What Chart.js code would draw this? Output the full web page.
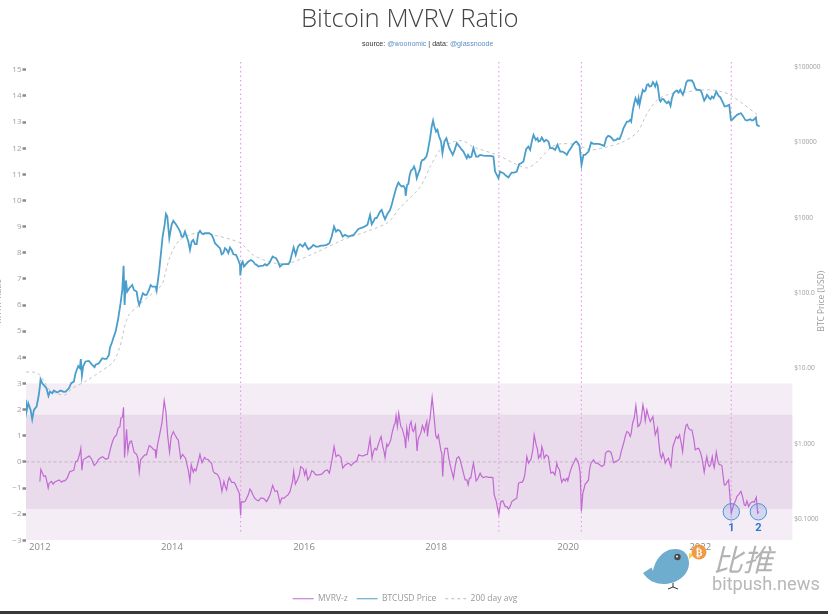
<!DOCTYPE html>
<html>
<head>
<meta charset="utf-8">
<title>Bitcoin MVRV Ratio</title>
<script src="https://cdn.jsdelivr.net/npm/chart.js@4"></script>
<style>
  html, body { margin: 0; padding: 0; background: #fff; overflow: hidden; }
  #wrap { position: relative; width: 840px; height: 614px; font-family: "Open Sans", sans-serif; }
  #wrap canvas { position: absolute; left: 0; top: 0; filter: blur(0.35px); }
  #title { position: absolute; left: 301px; top: 0px; font-size: 25.7px; font-weight: 300; color: #444; white-space: nowrap; }
  #source { position: absolute; left: 362px; top: 40px; font: 7.1px "Liberation Sans", sans-serif; color: #333; white-space: nowrap; }
  #source span { color: #5b8fc4; }
  #logo { position: absolute; left: 0; top: 0; pointer-events: none; }
  #bar { position: absolute; left: 0; top: 611px; width: 828px; height: 3px; background: #3b373d; }
</style>
</head>
<body>
<div id="wrap">
  <canvas id="mvrvChart" width="840" height="614"></canvas>
  <div id="title">Bitcoin MVRV Ratio</div>
  <div id="source">source: <span>@woonomic</span> | data: <span>@glassnoode</span></div>
  <svg id="logo" width="840" height="614">
    <path d="M689,553 L694,555 L689,559 Z" fill="#f4d23f"/>
    <path d="M643,573 L651.5,567.5 L653,571 C655,560 663,549 675,549 C684,549 689,555 689,563 C689,575 677,584 664,584 C654,584 648,580 643,573 Z" fill="#6fadcf"/>
    <circle cx="677.5" cy="557" r="3.2" fill="#4a4a4a"/>
    <circle cx="677" cy="556.5" r="1" fill="#fff"/>
    <path d="M673,583 L673,587 M668,589 L673,587 L678,589" stroke="#333" stroke-width="1" fill="none"/>
    <circle cx="699" cy="552" r="7.5" fill="#ef9a45"/>
    <text x="699" y="556" text-anchor="middle" font-family="DejaVu Sans" font-weight="bold" font-size="10" fill="#fff">₿</text>
    <text x="713" y="571" font-family="Noto Sans CJK SC" font-style="italic" font-size="30" fill="#b4b4b4">比推</text>
    <text x="712" y="590" font-family="Roboto" font-size="18.2" fill="#b8b8b8">bitpush.news</text>
  </svg>
  <div id="bar"></div>
</div>
<script>
const xTicks = [2012, 2014, 2016, 2018, 2020, 2022];
const zTicks = [-3, -2, -1, 0, 1, 2, 3, 4, 5, 6, 7, 8, 9, 10, 11, 12, 13, 14, 15];
const priceTicks = [0.1, 1, 10, 100, 1000, 10000, 100000];
const priceTickLabels = ['$0.1000', '$1.000', '$10.00', '$100.0', '$1000', '$10000', '$100000'];

const zYears = [
  2012.00, 2012.015, 2012.04, 2012.06, 2012.085, 2012.10, 2012.126, 2012.14, 2012.176, 2012.20, 2012.242, 2012.292,
  2012.328, 2012.378, 2012.414, 2012.454, 2012.494, 2012.54, 2012.57, 2012.606, 2012.62, 2012.636, 2012.656, 2012.707,
  2012.747, 2012.782, 2012.823, 2012.858, 2012.909, 2012.949, 2013.0, 2013.035, 2013.07, 2013.12, 2013.161, 2013.186,
  2013.212, 2013.227, 2013.252, 2013.267, 2013.282, 2013.303, 2013.313, 2013.333, 2013.353, 2013.388, 2013.424, 2013.464,
  2013.505, 2013.525, 2013.565, 2013.616, 2013.656, 2013.707, 2013.747, 2013.757, 2013.782, 2013.818, 2013.848, 2013.883,
  2013.909, 2013.934, 2013.964, 2013.989, 2014.02, 2014.06, 2014.096, 2014.131, 2014.161, 2014.186, 2014.222, 2014.272,
  2014.292, 2014.323, 2014.363, 2014.399, 2014.424, 2014.454, 2014.495, 2014.55, 2014.60, 2014.626, 2014.686, 2014.727,
  2014.757, 2014.787, 2014.828, 2014.868, 2014.904, 2014.939, 2014.98, 2015.02, 2015.04, 2015.05, 2015.08, 2015.131,
  2015.18, 2015.222, 2015.282, 2015.343, 2015.393, 2015.434, 2015.474,
  2015.485, 2015.525, 2015.56, 2015.596, 2015.636, 2015.662, 2015.727, 2015.788, 2015.828, 2015.843, 2015.869, 2015.9,
  2015.95, 2015.99, 2016.03, 2016.056, 2016.09, 2016.14, 2016.18, 2016.268, 2016.318, 2016.384, 2016.419, 2016.455,
  2016.485, 2016.52, 2016.56, 2016.586, 2016.626, 2016.677, 2016.747, 2016.798, 2016.828, 2016.9, 2016.96, 2017.0,
  2017.03, 2017.076, 2017.126, 2017.167, 2017.192, 2017.227, 2017.253, 2017.293, 2017.333, 2017.364, 2017.394, 2017.414,
  2017.434, 2017.465, 2017.505, 2017.54, 2017.556, 2017.581, 2017.621, 2017.657, 2017.687, 2017.712, 2017.743, 2017.793,
  2017.823, 2017.859, 2017.869, 2017.909, 2017.94, 2017.96, 2017.995, 2018.035, 2018.071, 2018.1, 2018.136, 2018.172,
  2018.212, 2018.263, 2018.313, 2018.343, 2018.39, 2018.44, 2018.485, 2018.525, 2018.566, 2018.606, 2018.667, 2018.717,
  2018.793, 2018.86, 2018.88, 2018.91, 2018.95, 2018.98, 2019.01, 2019.046, 2019.096, 2019.147, 2019.222, 2019.248,
  2019.273, 2019.3, 2019.344, 2019.374, 2019.4, 2019.435, 2019.485, 2019.515, 2019.55, 2019.576, 2019.6, 2019.637,
  2019.7, 2019.738, 2019.8, 2019.829, 2019.869, 2019.904, 2019.955, 2019.995, 2020.03, 2020.08, 2020.116, 2020.162,
  2020.182, 2020.2, 2020.222, 2020.258, 2020.308, 2020.344, 2020.384, 2020.445, 2020.51, 2020.546, 2020.586, 2020.647,
  2020.687, 2020.748, 2020.803, 2020.839, 2020.889, 2020.94, 2020.975, 2021.025, 2021.056, 2021.08, 2021.132, 2021.167,
  2021.192, 2021.243, 2021.283, 2021.318, 2021.354, 2021.394, 2021.434, 2021.47, 2021.52, 2021.556, 2021.586, 2021.637,
  2021.687, 2021.733, 2021.783, 2021.823, 2021.874, 2021.925, 2021.975, 2022.026, 2022.06, 2022.1, 2022.137, 2022.182,
  2022.212, 2022.243, 2022.288, 2022.328, 2022.364, 2022.404, 2022.43, 2022.455, 2022.47, 2022.505, 2022.556, 2022.616,
  2022.667, 2022.707, 2022.733, 2022.793, 2022.849, 2022.87, 2022.89
];
const zValues = [
  -.75, -.29, -.43, -.56, -.53, -.69, -1.0, -.82, -.75, -.85, -.75, -.69,
  -.78, -.73, -.62, -.37, -.34, .01, .04, .33, .52, -.32, .08, .17,
  .23, .11, -.14, -.05, .14, .2, .1, .14, .52, .9, 1.03, 1.29,
  1.35, 1.67, 1.73, 2.09, .17, .9, 1.25, .39, .71, .8, .39, .29,
  -.39, .08, .2, .27, .62, .52, .46, .14, .65, 1.1, 1.48, 2.34,
  1.92, 1.03, .37, .97, 1.16, .97, .84, .14, .29, .2, -.05, -.73,
  -.11, -.39, -.34, .01, .29, -.03, .17, .08, -.05, -.37, -.47, -.69,
  -1.13, -.75, -1.07, -.6, -.78, -.78, -.98, -1.2, -2.05, -1.52, -1.54, -1.39,
  -1.04, -1.24, -1.46, -1.39, -1.41, -1.52, -1.32,
  -1.26, -.9, -1.13, -1.11, -1.58, -1.39, -1.32, -1.13, -.73, -.37, -.85, -.69,
  -.18, -.27, -.31, -.69, -.56, -.37, -.5, -.47, -.34, -.43, .01, .59,
  .2, .27, .17, -.24, -.11, -.05, -.05, .04, .27, .23, .29, .9,
  .14, .52, .68, .97, .59, .17, .68, .71, 1.1, 1.41, 1.77, 1.35,
  1.86, 1.35, 1.1, .52, 1.29, .9, 1.54, 1.16, 1.41, .42, .97, 1.39,
  1.16, 1.54, .97, 1.67, 2.46, 1.99, 1.01, 1.03, .46, -.56, .52, .52,
  -.11, -.62, .14, .2, -.18, -.69, -.88, -.62, -.05, -.73, -.43, -.6,
  -.59, -.6, -1.26, -1.49, -2.0, -1.52, -1.49, -1.71, -1.8, -1.52, -1.39, -.82,
  -.78, -.78, -.5, .2, -.05, .08, 1.03, .65, .14, .27, .59, .14,
  .2, -.43, -.5, -.05, -.31, -.78, -.73, -.73, -.37, -.05, .14, -.11,
  -.43, -1.9, -1.2, -.85, -.69, -.05, .08, -.05, -.18, -.11, .39, .37,
  -.03, .04, .39, .71, 1.16, .97, 1.48, 2.15, 1.35, 1.41, 2.18, 1.57,
  1.99, 1.54, 1.73, 1.03, 1.29, .27, .33, -.05, .14, -.18, .59, .97,
  1.03, .39, 1.39, 1.29, 1.22, .46, .52, .14, -.39, .2, -.18, .2,
  -.22, .37, -.11, -.14, -.88, -.78, -.69, -1.52, -1.96, -1.64, -1.32, -1.13,
  -1.64, -1.49, -1.71, -1.52, -1.35, -1.96, -1.9
];

// second pass over the picture, more readings where the line wiggles
const zDetailYears = [
  2012.222, 2012.353, 2012.515, 2012.732, 2012.808, 2012.883, 2013.1, 2013.136, 2013.363, 2013.444, 2013.484, 2013.59,
  2013.636, 2013.68, 2013.727, 2014.04, 2014.075, 2014.116, 2014.206, 2014.247, 2014.343, 2014.515, 2014.575, 2014.65,
  2014.707, 2014.807, 2014.848, 2014.959, 2015.106, 2015.156, 2015.2, 2015.252, 2015.313, 2015.373,
  2015.697, 2015.758, 2015.929, 2015.97, 2016.01, 2016.116, 2016.217, 2016.354, 2016.712, 2016.859, 2016.929, 2017.05,
  2017.1, 2017.147, 2017.212, 2017.268, 2017.313, 2017.379, 2017.485, 2017.525, 2017.601, 2017.641, 2017.727, 2017.768,
  2017.808, 2017.838, 2017.889, 2018.015, 2018.05, 2018.086, 2018.116, 2018.192, 2018.238, 2018.288, 2018.364, 2018.414,
  2018.465, 2018.505, 2018.545, 2018.586, 2018.636, 2018.692, 2018.758, 2018.829, 2018.93, 2019.071, 2019.121, 2019.182,
  2019.323, 2019.414, 2019.465, 2019.5, 2019.536, 2019.586, 2019.616, 2019.667, 2019.717, 2019.768, 2019.839, 2019.889,
  2019.93, 2019.98, 2020.056, 2020.142, 2020.283, 2020.323, 2020.414, 2020.475, 2020.566, 2020.611, 2020.667, 2020.717,
  2020.778, 2020.864, 2020.914, 2020.955, 2021.0, 2021.041, 2021.101, 2021.152, 2021.217, 2021.258, 2021.303, 2021.374,
  2021.414, 2021.45, 2021.495, 2021.536, 2021.611, 2021.662, 2021.707, 2021.758, 2021.803, 2021.849, 2021.9, 2021.95,
  2022.0, 2022.081, 2022.116, 2022.157, 2022.197, 2022.268, 2022.308, 2022.344, 2022.384, 2022.53, 2022.58, 2022.64,
  2022.687, 2022.758, 2022.818
];
const zDetailValues = [
  -.78, -.73, -.31, .2, -.05, .08, .78, .97, .78, .33, .14, .27,
  .46, .59, .46, 1.06, .9, .46, .14, -.31, -.27, .11, .01, -.43,
  -.56, -.94, -.75, -.85, -1.52, -1.26, -1.11, -1.39, -1.49, -1.39,
  -1.39, -1.26, -.5, -.22, -.5, -.34, -.5, -.31, -.14, .24, .27, .39,
  .46, .84, .39, .59, .84, 1.48, 1.29, .9, 1.41, 1.22, .84, 1.1,
  1.29, 1.35, 1.41, .9, .78, .33, .2, .14, -.37, -.18, .08, -.43,
  -.69, -.62, -.31, -.37, -.62, -.56, -.56, -.59, -1.77, -1.71, -1.71, -1.45,
  -.69, .01, .46, .84, .46, .2, .46, .27, -.11, -.39, -.18, -.62,
  -.65, -.62, -.18, .04, -.78, -.31, -.05, -.11, .33, .42, .2, .01,
  .11, .97, 1.13, 1.1, 1.67, 1.8, 1.54, 1.92, 1.73, 1.61, 1.35, .71,
  .14, .2, .08, -.05, .78, .9, .78, 1.03, 1.44, 1.22, .9, .5,
  .39, -.05, -.05, -.11, -.09, .01, -.11, -.5, -.88, -1.52, -1.26, -1.32,
  -1.67, -1.58, -1.54
];

const priceYears = [
  2011.788, 2011.798, 2011.824, 2011.859, 2011.884, 2011.91, 2011.95, 2011.98, 2012.0, 2012.01, 2012.036, 2012.07,
  2012.1, 2012.13, 2012.152, 2012.187, 2012.212, 2012.263, 2012.313, 2012.39, 2012.44, 2012.475, 2012.515, 2012.54,
  2012.581, 2012.606, 2012.62, 2012.637, 2012.657, 2012.692, 2012.743, 2012.793, 2012.828, 2012.894, 2012.945, 2013.01,
  2013.046, 2013.096, 2013.147, 2013.187, 2013.222, 2013.248, 2013.268, 2013.283, 2013.303, 2013.323, 2013.354, 2013.399,
  2013.424, 2013.465, 2013.505, 2013.535, 2013.586, 2013.652, 2013.677, 2013.753, 2013.768,
  2013.808, 2013.859, 2013.889, 2013.909, 2013.93, 2013.96, 2013.995, 2014.02, 2014.06, 2014.111, 2014.146, 2014.197,
  2014.248, 2014.273, 2014.298, 2014.349, 2014.399, 2014.425, 2014.475, 2014.525, 2014.601, 2014.652, 2014.702, 2014.753,
  2014.803, 2014.854, 2014.879, 2014.93, 2015.005, 2015.03, 2015.035, 2015.056, 2015.091, 2015.157, 2015.197, 2015.258,
  2015.308, 2015.384, 2015.435, 2015.525, 2015.576, 2015.636, 2015.687, 2015.763, 2015.813, 2015.843, 2015.874, 2015.94,
  2016.015, 2016.066, 2016.141, 2016.217, 2016.293, 2016.384, 2016.419, 2016.455, 2016.485, 2016.545, 2016.586, 2016.672,
  2016.75, 2016.823, 2016.9, 2016.96, 2017.0, 2017.025, 2017.075, 2017.126, 2017.176, 2017.227, 2017.303, 2017.353,
  2017.394, 2017.429, 2017.479, 2017.53, 2017.54, 2017.58, 2017.621, 2017.666, 2017.707, 2017.757, 2017.792, 2017.833,
  2017.873, 2017.909, 2017.934, 2017.954, 2017.974, 2017.999, 2018.02, 2018.045, 2018.075, 2018.096, 2018.126, 2018.156,
  2018.2, 2018.252, 2018.313, 2018.353, 2018.414, 2018.464, 2018.505, 2018.565, 2018.606, 2018.666, 2018.767, 2018.868,
  2018.893, 2018.944, 2018.969, 2019.02, 2019.096, 2019.146, 2019.222, 2019.257, 2019.323, 2019.363, 2019.398,
  2019.424, 2019.475, 2019.51, 2019.55, 2019.6, 2019.636, 2019.702, 2019.727, 2019.803, 2019.838, 2019.879, 2019.954,
  2019.98, 2020.04, 2020.121, 2020.172, 2020.202, 2020.232, 2020.283, 2020.308, 2020.348, 2020.409, 2020.51, 2020.576,
  2020.636, 2020.687, 2020.778, 2020.838, 2020.889, 2020.939, 2020.98, 2021.02, 2021.05, 2021.08, 2021.131, 2021.151,
  2021.192, 2021.232, 2021.283, 2021.318, 2021.354, 2021.384, 2021.419, 2021.47, 2021.52, 2021.55, 2021.596, 2021.646,
  2021.697, 2021.737, 2021.788, 2021.838, 2021.874, 2021.924, 2021.985, 2022.025, 2022.06, 2022.101, 2022.136, 2022.177,
  2022.202, 2022.242, 2022.278, 2022.328, 2022.368, 2022.404, 2022.439, 2022.464, 2022.505, 2022.555, 2022.616, 2022.681,
  2022.732, 2022.783, 2022.843, 2022.858, 2022.899
];
const priceValues = [
  3.84, 2.68, 3.46, 2.83, 2.12, 2.83, 3.13, 4.25, 5.76, 7.2, 6.38, 5.88,
  5.47, 4.33, 4.94, 4.7, 5.1, 4.8, 5.1, 4.94, 5.47, 6.38, 6.7, 8.65,
  10.8, 10.1, 13.3, 8.06, 10.8, 12.4, 12.6, 11.2, 10.4, 11.7, 13.7, 13.4,
  15.1, 22.8, 30.9, 46.4, 73.4, 110, 230, 69.7, 147, 105, 116, 128,
  110, 105, 69.7, 85, 95, 110, 128, 122, 108,
  203, 562, 803, 1122, 1036, 534, 803, 907, 819, 689, 562, 655,
  482, 374, 482, 445, 622, 668, 604, 622, 592, 458, 414, 327,
  394, 338, 402, 327, 275, 237, 171, 249, 225, 262, 275, 242,
  225, 232, 232, 305, 290, 225, 242, 242, 321, 402, 321, 445,
  458, 382, 436, 414, 427, 458, 562, 762, 655, 668, 562, 562,
  590, 710, 748, 803, 1089, 819, 984, 1089, 1268, 955, 1268, 1811,
  2460, 2924, 2588, 2460, 1945, 2805, 4217, 4764, 3334, 4395, 5848, 6152,
  7534, 11324, 16180, 19409, 16180, 13868, 14620, 11912, 10230, 7161, 10230, 11324,
  8340, 6808, 9727, 8770, 7534, 6152, 6281, 8340, 6471, 6808, 6600, 6471,
  4090, 3334, 4090, 3890, 3405, 3970, 4090, 5117, 5546, 8091, 8770,
  7925, 12540, 10760, 10230, 11560, 10230, 10230, 8340, 7925, 9250, 7534, 7161,
  6808, 8340, 10230, 8955, 5012, 6808, 7161, 7534, 9930, 9528, 9250, 11324,
  11912, 10540, 10990, 15380, 18840, 19815, 26900, 38370, 32960, 31330, 49540, 47100,
  57680, 54830, 62660, 54830, 57680, 36480, 37240, 34670, 34670, 30410, 44770, 48530,
  49540, 42560, 61940, 65920, 65920, 52120, 49540, 44770, 35730, 42560, 38370, 40460,
  38370, 47100, 41210, 35730, 29790, 30410, 31330, 19815, 20840, 23070, 24270, 19815,
  19815, 19410, 21280, 17020, 16140
];

const priceDetailYears = [
  2012.364, 2012.844, 2012.98, 2013.06, 2013.12, 2013.167, 2013.485, 2013.56, 2013.617, 2013.702,
  2014.132, 2014.172, 2014.222, 2014.323, 2014.374, 2014.45, 2014.5, 2014.566, 2014.627, 2014.677, 2014.728, 2014.778,
  2014.828, 2014.904, 2014.97, 2015.071, 2015.121, 2015.232, 2015.283, 2015.343, 2015.41, 2015.475, 2015.551, 2015.606,
  2015.662, 2015.727, 2015.788, 2015.909, 2015.98, 2016.04, 2016.106, 2016.177, 2016.253, 2016.344, 2016.51, 2016.62,
  2017.05, 2017.1, 2017.151, 2017.2, 2017.262, 2017.328, 2017.414, 2017.454, 2017.505, 2017.56, 2017.6, 2017.646,
  2017.686, 2017.732, 2017.772, 2017.813, 2017.853, 2018.227, 2018.282, 2018.383, 2018.439, 2018.484, 2018.535, 2018.585,
  2018.636, 2018.717, 2018.818, 2018.919, 2018.995, 2019.055, 2019.121, 2019.182, 2019.287,
  2019.449, 2019.535, 2019.576, 2019.666, 2019.767, 2019.914, 2020.005, 2020.07, 2020.091, 2020.146, 2020.257, 2020.323,
  2020.379, 2020.459, 2020.545, 2020.606, 2020.661, 2020.727, 2020.747, 2020.813, 2020.914, 2020.954, 2021.0, 2021.066,
  2021.106, 2021.171, 2021.212, 2021.257, 2021.303, 2021.338, 2021.399, 2021.444, 2021.495, 2021.535, 2021.571, 2021.621,
  2021.671, 2021.722, 2021.762, 2021.813, 2021.899, 2021.949, 2022.005, 2022.04, 2022.081, 2022.116, 2022.156, 2022.217,
  2022.262, 2022.303, 2022.348, 2022.484, 2022.53, 2022.586, 2022.646, 2022.707, 2022.757, 2022.808
];
const priceDetailValues = [
  4.9, 11.2, 13.4, 18.6, 26.5, 37.8, 81, 99.5, 94.6, 122,
  622, 562, 562, 508, 445, 622, 622, 622, 534, 436, 394, 338,
  374, 374, 321, 262, 242, 262, 237, 230, 242, 249, 296, 262,
  237, 242, 262, 414, 414, 414, 402, 414, 427, 436, 689, 592,
  889, 984, 1205, 1089, 1122, 1479, 2723, 2723, 2642, 2723, 3698, 4395,
  4305, 3890, 5383, 5848, 6471, 7534, 7925, 8091, 6808, 6808, 6471, 7310,
  6471, 6668, 6607, 3698, 3970, 3624, 3698, 3970, 5272,
  10230, 11320, 10440, 10760, 8340, 7534, 7534, 9250, 9730, 9730, 6808, 8340,
  9530, 9530, 8955, 12160, 11320, 10760, 11220, 13190, 18840, 18840, 32960, 38370,
  40460, 48530, 58880, 55350, 58880, 61940, 34670, 37240, 32960, 32960, 38370, 47100,
  45610, 44770, 49540, 65920, 60680, 49540, 48530, 40460, 38370, 41210, 37240, 41210,
  43850, 39630, 32960, 19815, 21930, 23820, 22390, 19410, 20230, 19815
];

const avgYears = [
  2011.79, 2011.92, 2012.0, 2012.08, 2012.15, 2012.27, 2012.39, 2012.48, 2012.71, 2012.91, 2013.11, 2013.21,
  2013.33, 2013.47, 2013.64, 2013.82, 2013.86, 2013.97, 2014.12, 2014.38, 2014.62, 2015.03, 2015.23, 2015.53,
  2015.79, 2016.2, 2016.59, 2017.26, 2017.45, 2017.76, 2017.91, 2018.06, 2018.26, 2018.41, 2018.56, 2018.92,
  2019.23, 2019.38, 2019.53, 2019.73, 2019.88, 2020.14, 2020.33, 2020.59, 2020.83, 2021.05, 2021.2, 2021.35,
  2021.5, 2021.8, 2022.05, 2022.27, 2022.45, 2022.89
];
const avgValues = [
  9.0, 8.9, 8.2, 6.4, 5.2, 4.6, 4.5, 5.4, 6.9, 9.0, 12.2, 19.3,
  48.3, 65.6, 89, 121, 136, 302, 508, 629, 592, 463, 321, 252,
  252, 352, 508, 853, 1349, 2560, 4720, 7925, 10120, 10440, 8690, 6808,
  5012, 4570, 5500, 8430, 9528, 9250, 7925, 8690, 10120, 13740, 24550, 36480,
  42560, 46560, 49540, 48080, 42560, 22390
];

const lowYears = [2015.04, 2018.95, 2020.2, 2022.47];
const lowLineEnds = [15.3, -2.67];
const circleYears = [2022.47, 2022.88];
const circleValues = [-1.91, -1.91];
const circleLabels = ['1', '2'];
const circleLabelValue = -2.52;
const xRange = [2011.79, 2023.4];
const bandOuter = [3, -3];
const bandInner = [1.8, -1.8];

const toPoints = (xs, ys) => xs.map((x, i) => ({ x: x, y: ys[i] }));
const byYear = (a, b) => a.x - b.x;
const axisFont = '"Open Sans", sans-serif';
const flat = (v) => xRange.map((x) => ({ x: x, y: v }));

// the dotted lines at the cycle lows, one dataset each
const lowLines = lowYears.map((yr) => ({
  label: 'low ' + yr,
  data: lowLineEnds.map((v) => ({ x: yr, y: v })),
  yAxisID: 'y',
  borderColor: '#e79ce9',
  borderWidth: 1.2,
  borderDash: [1.5, 3],
  pointRadius: 0,
  order: 6,
}));

const extras = {
  id: 'extras',
  afterLayout(chart) {
    // legend sits a bit left of the page centre
    chart.legend.right = 810;
  },
  afterDatasetsDraw(chart) {
    const ctx = chart.ctx;
    ctx.save();
    ctx.font = 'bold 11px Roboto, sans-serif';
    ctx.fillStyle = '#2f78c8';
    ctx.textAlign = 'center';
    ctx.textBaseline = 'middle';
    circleLabels.forEach((t, i) => {
      ctx.fillText(t, chart.scales.x.getPixelForValue(circleYears[i]), chart.scales.y.getPixelForValue(circleLabelValue));
    });
    // right axis title reads bottom to top
    ctx.translate(822, (chart.chartArea.top + chart.chartArea.bottom) / 2);
    ctx.rotate(-Math.PI / 2);
    ctx.font = '8.4px ' + axisFont;
    ctx.fillStyle = '#999';
    ctx.fillText('BTC Price (USD)', 0, 0);
    ctx.restore();
  },
};

new Chart(document.getElementById('mvrvChart'), {
  type: 'line',
  plugins: [extras],
  data: {
    datasets: [
      {
        label: 'BTCUSD Price',
        data: toPoints(priceYears, priceValues).concat(toPoints(priceDetailYears, priceDetailValues)).sort(byYear),
        yAxisID: 'yPrice',
        borderColor: '#4a9ecb',
        borderWidth: 1.8,
        pointRadius: 0,
        order: 2,
      },
      {
        label: 'MVRV-z',
        data: toPoints(zYears, zValues).concat(toPoints(zDetailYears, zDetailValues)).sort(byYear),
        yAxisID: 'y',
        borderColor: '#c268d3',
        borderWidth: 1.2,
        pointRadius: 0,
        order: 3,
      },
      {
        label: '200 day avg',
        data: toPoints(avgYears, avgValues),
        yAxisID: 'yPrice',
        borderColor: '#bdbdbd',
        borderWidth: 0.9,
        borderDash: [3, 3],
        tension: 0.3,
        pointRadius: 0,
        order: 4,
      },
      {
        label: 'circles',
        data: toPoints(circleYears, circleValues),
        yAxisID: 'y',
        showLine: false,
        pointRadius: 8.2,
        pointBackgroundColor: 'rgba(90,130,225,0.2)',
        pointBorderColor: '#4f93d3',
        pointBorderWidth: 1,
        order: 1,
      },
      {
        label: 'zero',
        data: flat(0),
        yAxisID: 'y',
        borderColor: '#bda9bd',
        borderWidth: 0.8,
        borderDash: [3, 2.5],
        pointRadius: 0,
        order: 5,
      },
      ...lowLines,
      {
        label: 'inner band',
        data: flat(bandInner[0]),
        yAxisID: 'y',
        borderWidth: 0,
        pointRadius: 0,
        fill: { value: bandInner[1] },
        backgroundColor: '#e9dbec',
        order: 8,
      },
      {
        label: 'outer band',
        data: flat(bandOuter[0]),
        yAxisID: 'y',
        borderWidth: 0,
        pointRadius: 0,
        fill: { value: bandOuter[1] },
        backgroundColor: '#f4edf6',
        order: 9,
      },
    ],
  },
  options: {
    responsive: false,
    animation: false,
    layout: { padding: { top: 62, right: 0, bottom: 1, left: 0 } },
    plugins: {
      tooltip: { enabled: false },
      title: { display: false },
      legend: {
        position: 'bottom',
        labels: {
          usePointStyle: true,
          pointStyleWidth: 21,
          padding: 9,
          font: { family: axisFont, size: 8.5 },
          color: '#999',
          generateLabels(chart) {
            return [1, 0, 2].map((i) => {
              const ds = chart.data.datasets[i];
              return {
                text: ds.label,
                datasetIndex: i,
                pointStyle: 'line',
                strokeStyle: ds.borderColor,
                fillStyle: ds.borderColor,
                lineWidth: 1,
                lineDash: ds.borderDash || [],
                fontColor: '#999',
              };
            });
          },
        },
      },
    },
    scales: {
      x: {
        type: 'linear',
        min: xRange[0],
        max: xRange[1],
        grid: { display: false, drawTicks: false },
        border: { display: false },
        ticks: {
          autoSkip: false,
          maxRotation: 0,
          padding: 1,
          color: '#888',
          font: { family: axisFont, size: 9.5 },
          callback: (v) => String(v),
        },
        afterBuildTicks(scale) {
          scale.ticks = xTicks.map((v) => ({ value: v }));
        },
        afterFit(scale) {
          const legendH = scale.chart.legend ? scale.chart.legend.height : 0;
          scale.height = 613 - legendH - 540.3;
        },
      },
      y: {
        type: 'linear',
        position: 'left',
        min: -3,
        max: 15.3,
        border: { display: false },
        grid: { drawOnChartArea: false, drawTicks: true, tickLength: 3.5, tickWidth: 2.5, tickColor: '#8a8a8a' },
        title: {
          display: true,
          text: 'MVRV Ratio',
          color: '#999',
          font: { family: axisFont, size: 8.4 },
          padding: { top: -6.5, bottom: 0 },
        },
        ticks: {
          autoSkip: false,
          padding: 1,
          color: '#a0a0a0',
          font: { family: axisFont, size: 8 },
          callback: (v) => String(v).replace('-', '\u2212'),
        },
        afterBuildTicks(scale) {
          scale.ticks = zTicks.map((v) => ({ value: v }));
        },
        afterFit(scale) {
          scale.width = 26;
        },
      },
      yPrice: {
        type: 'logarithmic',
        position: 'right',
        min: 0.0527,
        max: 116000,
        border: { display: false },
        grid: { display: false, drawTicks: false },
        ticks: {
          autoSkip: false,
          padding: 1.5,
          color: '#a0a0a0',
          font: { family: axisFont, size: 6.6 },
          callback: (v) => priceTickLabels[priceTicks.indexOf(v)],
        },
        afterBuildTicks(scale) {
          scale.ticks = priceTicks.map((v) => ({ value: v }));
        },
        afterFit(scale) {
          scale.width = 47.3;
        },
      },
    },
  },
});
</script>
</body>
</html>
